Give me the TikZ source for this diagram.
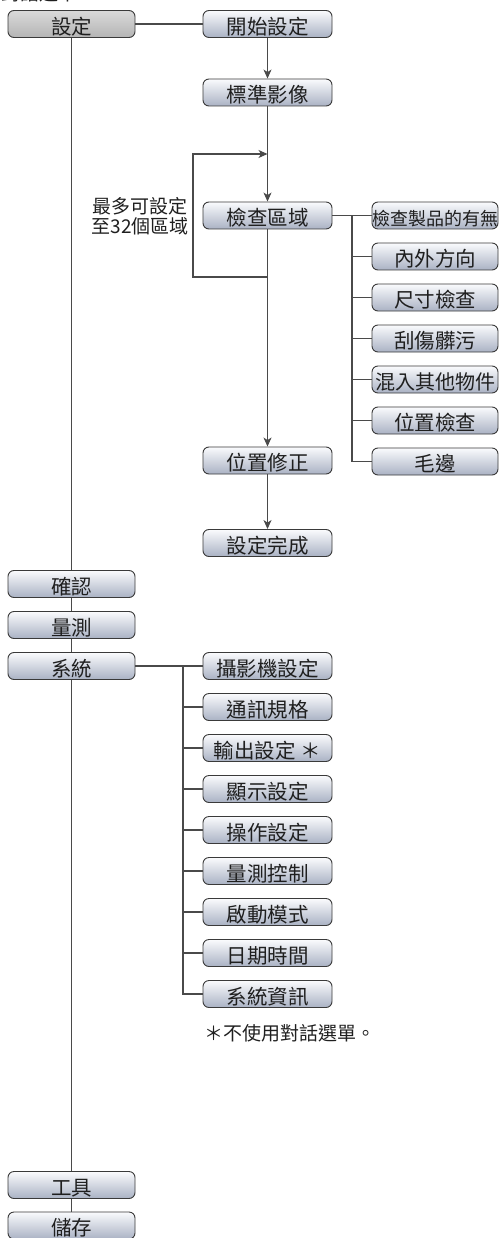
\documentclass[tikz,border=0pt]{standalone}
\usepackage{fontspec}
\setmainfont{Noto Sans CJK TC}
\usetikzlibrary{arrows.meta}
\definecolor{boxline}{HTML}{3A3A3A}
\definecolor{conn}{HTML}{4A4A4A}
\definecolor{gtop}{HTML}{FAFBFD}
\definecolor{gbot}{HTML}{AAB2C4}
\definecolor{stop}{HTML}{DADADA}
\definecolor{sbot}{HTML}{B4B4B4}
\begin{document}
\begin{tikzpicture}[x=1pt,y=-1pt,
  box/.style={draw=boxline, line width=0.9pt, rounded corners=6pt,
    top color=gtop, bottom color=gbot, minimum height=27pt, inner sep=0pt,
    font=\fontsize{20.5}{22}\selectfont, text=black!88, text height=22pt, text depth=1.8pt},
  lbox/.style={box, minimum width=127pt},
  mbox/.style={box, minimum width=129pt},
  rbox/.style={box, minimum width=126pt},
  selbox/.style={lbox, top color=stop, bottom color=sbot},
  conn line/.style={draw=conn, line width=1.1pt},
  arr/.style={conn line, -{Stealth[length=9pt,width=8pt,inset=2.5pt]}},
  lbl/.style={font=\fontsize{19}{20.5}\selectfont, text=black!88, inner sep=0pt, align=center}
]
\useasboundingbox (0,0) rectangle (501,1238);

% cut-off header
\node[lbl, anchor=base west] (hdr) at (1,0.8) {對話選單};

% left column
\node[selbox] (set) at (71.5,24) {設定};
\node[lbox] (confirm) at (71.5,584) {確認};
\node[lbox] (measure) at (71.5,625) {量測};
\node[lbox] (system) at (71.5,666) {系統};
\node[lbox] (tools) at (71.5,1185) {工具};
\node[lbox] (save) at (71.5,1225.5) {儲存};

% setup chain
\node[mbox] (start) at (267.5,24) {開始設定};
\node[mbox] (std) at (267.5,92.5) {標準影像};
\node[mbox] (area) at (267.5,215.5) {檢查區域};
\node[mbox] (poscorr) at (267.5,460.5) {位置修正};
\node[mbox] (done) at (267.5,543) {設定完成};

% inspection items
\node[rbox, font=\fontsize{18}{20}\selectfont] (r1) at (435,215.5) {檢查製品的有無};
\node[rbox] (r2) at (435,256.5) {內外方向};
\node[rbox] (r3) at (435,297.5) {尺寸檢查};
\node[rbox] (r4) at (435,338.5) {刮傷髒污};
\node[rbox, font=\fontsize{20}{22}\selectfont] (r5) at (435,379.5) {混入其他物件};
\node[rbox] (r6) at (435,420.5) {位置檢查};
\node[rbox] (r7) at (435,461.5) {毛邊};

% system items
\node[mbox] (s1) at (267.5,666) {攝影機設定};
\node[mbox] (s2) at (267.5,707) {通訊規格};
\node[mbox] (s3) at (267.5,748) {輸出設定 ＊};
\node[mbox] (s4) at (267.5,789) {顯示設定};
\node[mbox] (s5) at (267.5,830) {操作設定};
\node[mbox] (s6) at (267.5,871) {量測控制};
\node[mbox] (s7) at (267.5,912) {啟動模式};
\node[mbox] (s8) at (267.5,953) {日期時間};
\node[mbox] (s9) at (267.5,994) {系統資訊};

% labels
\node[lbl] (loopnote) at (140,216) {最多可設定\\至32個區域};
\node[lbl] (foot) at (289.5,1033) {＊不使用對話選單。};

% left spine
\draw[conn line] (set) -- (confirm);
\draw[conn line] (confirm) -- (measure);
\draw[conn line] (measure) -- (system);
\draw[conn line] (system) -- (tools);
\draw[conn line] (tools) -- (save);

% setup chain connectors
\draw[conn line] (set.east) -- (start.west);
\draw[arr] (start) -- (std);
\draw[arr] (std) -- (area);
\draw[arr] (area) -- (poscorr);
\draw[arr] (poscorr) -- (done);

% loop
\coordinate (loopA) at (267.5,277);
\coordinate (loopB) at (193,277);
\coordinate (loopD) at (267.5,154);
\draw[arr] (loopA) -- (loopB) |- (loopD);

% inspection branch
\coordinate (brA) at (352,215.5);
\draw[conn line] (area.east) -- (r1.west);
\foreach \i in {2,...,7} { \draw[conn line] (brA) |- (r\i.west); }

% system branch
\coordinate (brS) at (183,666);
\draw[conn line] (system.east) -- (s1.west);
\foreach \i in {2,...,9} { \draw[conn line] (brS) |- (s\i.west); }
\end{tikzpicture}
\end{document}
